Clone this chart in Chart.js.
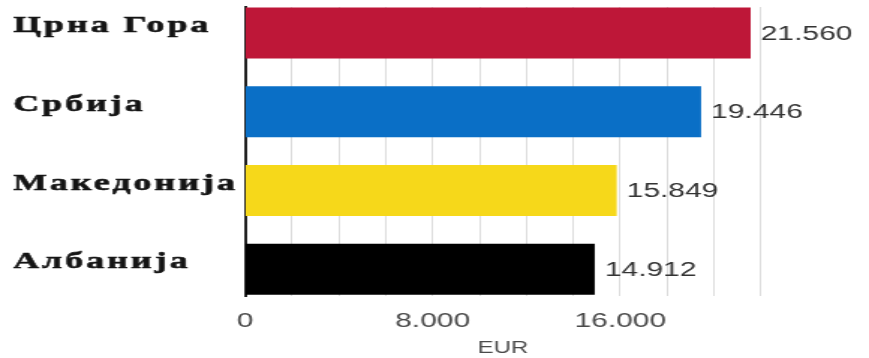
<!DOCTYPE html>
<html>
<head>
<meta charset="utf-8">
<script src="https://cdn.jsdelivr.net/npm/chart.js@4/dist/chart.umd.min.js"></script>
<style>
html,body{margin:0;padding:0;background:#fff;overflow:hidden;width:869px;height:358px}
#c{display:block;transform-origin:0 0;transform:scaleX(1.49828)}
</style>
</head>
<body>
<canvas id="c" width="580" height="358"></canvas>
<script>
const categories = ['Црна Гора', 'Србија', 'Македонија', 'Албанија'];
const values = [21560, 19446, 15849, 14912];
const barColors = ['#BE1738', '#0A6FC6', '#F6D81A', '#000000'];
const xTickValues = [0, 8000, 16000];
const xTickLabels = ['0', '8.000', '16.000'];
const axisTitle = 'EUR';
const yMin = -0.33;
const yMax = 3.34;

function fmt(v) { return String(v).replace(/\B(?=(\d{3})+(?!\d))/g, '.'); }

const labelPlugin = {
  id: 'labelPlugin',
  afterDatasetsDraw(chart) {
    const ctx = chart.ctx;
    const meta = chart.getDatasetMeta(0);
    ctx.save();
    ctx.font = '20px "Liberation Sans", Arial, sans-serif';
    ctx.fillStyle = '#333333';
    ctx.textAlign = 'left';
    ctx.textBaseline = 'middle';
    meta.data.forEach((el, i) => {
      ctx.fillText(fmt(values[i]), el.x + 6.7, el.y + 1);
    });
    ctx.restore();
    if ('letterSpacing' in ctx) ctx.letterSpacing = '2px';
  },
  afterDraw(chart) {
    if ('letterSpacing' in chart.ctx) chart.ctx.letterSpacing = '0px';
  }
};

Chart.defaults.font.family = '"Liberation Sans", Arial, sans-serif';

new Chart(document.getElementById('c'), {
  type: 'bar',
  data: {
    datasets: [{
      data: values.map((v, i) => ({ x: v, y: i })),
      backgroundColor: barColors,
      borderWidth: 0,
      categoryPercentage: 1,
      barPercentage: 0.65
    }]
  },
  options: {
    indexAxis: 'y',
    responsive: false,
    devicePixelRatio: 1,
    animation: false,
    layout: { padding: { left: 8.7, top: 7, right: 72.1, bottom: 0 } },
    plugins: { legend: { display: false }, tooltip: { enabled: false } },
    scales: {
      x: {
        type: 'linear',
        min: 0,
        max: 22000,
        grid: { color: '#dcdcdc', lineWidth: 1, drawTicks: false },
        border: { display: false },
        ticks: {
          stepSize: 2000,
          autoSkip: false,
          maxRotation: 0,
          padding: 13,
          color: '#4a4a4a',
          font: { size: 20 },
          callback: (v) => { const k = xTickValues.indexOf(v); return k >= 0 ? xTickLabels[k] : ''; }
        },
        title: { display: true, text: axisTitle, color: '#4a4a4a', font: { size: 16 }, padding: { top: 0, bottom: 0 } },
        afterFit: (s) => { s.height = 62; s.paddingLeft = 0; s.paddingRight = 0; }
      },
      y: {
        type: 'linear',
        reverse: true,
        offset: false,
        bounds: 'data',
        min: yMin,
        max: yMax,
        grid: { display: false, offset: false },
        border: { display: true, color: '#222222', width: 2 },
        afterDataLimits: (s) => { s.min = yMin; s.max = yMax; },
        afterBuildTicks: (s) => {
          s.ticks = categories.map((c, i) => ({ value: i }));
          s.min = yMin; s.max = yMax; s.start = yMax; s.end = yMin;
        },
        ticks: {
          z: 1,
          autoSkip: false,
          includeBounds: false,
          crossAlign: 'far',
          labelOffset: -7,
          color: '#141414',
          textStrokeColor: '#141414',
          textStrokeWidth: 0.6,
          font: { family: '"Liberation Serif", "Times New Roman", serif', weight: 'bold', size: 24 },
          callback: (v) => categories[v]
        },
        afterFit: (s) => { s.width = 154.8; s.paddingTop = 0; s.paddingBottom = 0; }
      }
    }
  },
  plugins: [labelPlugin]
});
</script>
</body>
</html>
